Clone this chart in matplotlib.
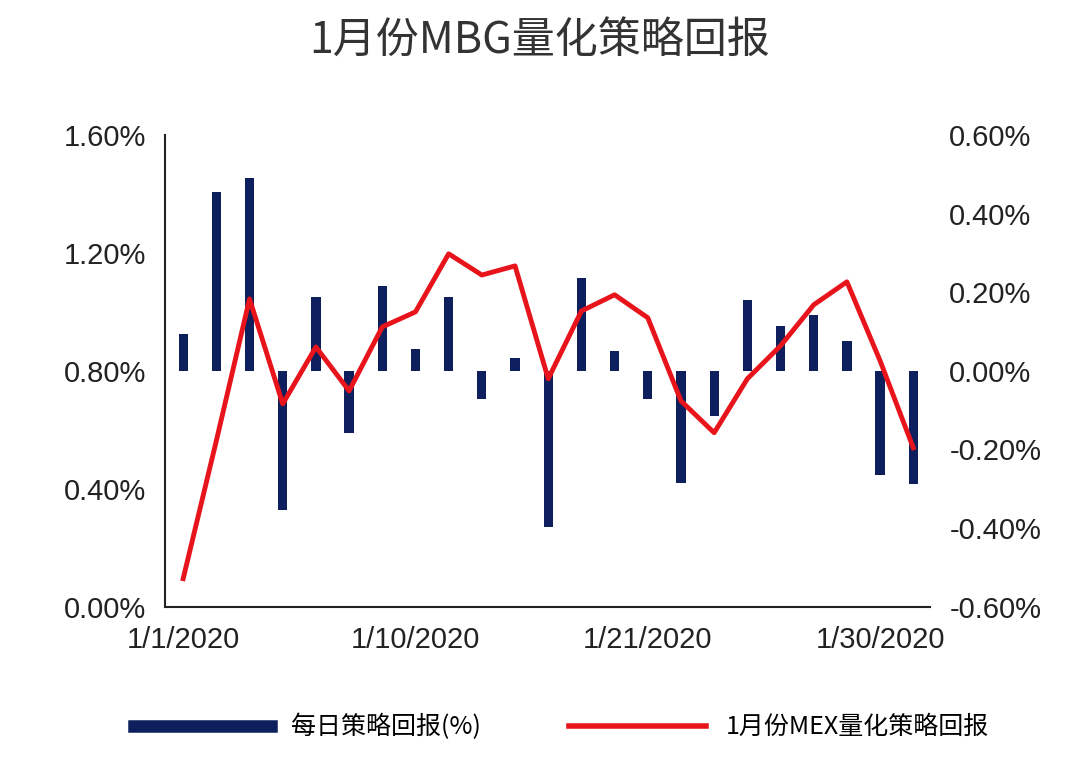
import matplotlib
matplotlib.use("Agg")
import matplotlib.pyplot as plt
from matplotlib.lines import Line2D

plt.rcParams['font.family'] = ['Liberation Sans', 'Noto Sans CJK SC', 'DejaVu Sans']

dates = ["1/1/2020","1/2/2020","1/3/2020","1/4/2020","1/5/2020","1/6/2020","1/7/2020",
         "1/10/2020","1/11/2020","1/12/2020","1/13/2020","1/14/2020","1/15/2020","1/16/2020",
         "1/21/2020","1/22/2020","1/23/2020","1/24/2020","1/25/2020","1/26/2020","1/27/2020",
         "1/30/2020","1/31/2020"]
tick_labels = ["1/1/2020", "1/10/2020", "1/21/2020", "1/30/2020"]
daily = [0.094,0.456,0.491,-0.354,0.187,-0.157,0.215,0.056,0.187,-0.071,0.033,-0.397,
         0.235,0.051,-0.071,-0.286,-0.116,0.180,0.114,0.142,0.076,-0.266,-0.289]
monthly = [0.095,0.563,1.044,0.688,0.881,0.732,0.949,1.0,1.197,1.125,1.156,0.773,1.003,
           1.058,0.980,0.698,0.590,0.773,0.885,1.024,1.102,0.834,0.539]

fig = plt.figure(figsize=(10.8, 7.67), dpi=100)
ax = fig.add_axes([0.153, 0.209, 0.708, 0.615])
ax2 = ax.twinx()
x = list(range(len(dates)))
ax2.bar(x, daily, width=0.28, color='#0d1f5c', zorder=2)
ax.plot(x, monthly, color='#e8141b', lw=3.5, zorder=3)
ax.set_zorder(ax2.get_zorder() + 1)
ax.patch.set_visible(False)

ax.set_xlim(-0.54, 22.5)
ax.set_ylim(0, 1.6)
ax2.set_ylim(-0.6, 0.6)
ax.set_yticks([0, 0.4, 0.8, 1.2, 1.6])
ax.set_yticklabels(["0.00%", "0.40%", "0.80%", "1.20%", "1.60%"])
ax2.set_yticks([-0.6, -0.4, -0.2, 0, 0.2, 0.4, 0.6])
ax2.set_yticklabels(["-0.60%", "-0.40%", "-0.20%", "0.00%", "0.20%", "0.40%", "0.60%"])
ax.set_xticks([dates.index(t) for t in tick_labels])
ax.set_xticklabels(tick_labels)
for a in (ax, ax2):
    a.tick_params(length=0, labelsize=21, colors='#222222', pad=14)
    a.spines['top'].set_visible(False)
    a.spines['right'].set_visible(False)
ax2.spines['left'].set_visible(False)
ax2.spines['bottom'].set_visible(False)
for s in ('left', 'bottom'):
    ax.spines[s].set_linewidth(1.5)
    ax.spines[s].set_color('#222222')

fig.text(0.5, 0.945, "1月份MBG量化策略回报", ha='center', va='center', fontsize=31,
         color='#333333', family=['Noto Sans CJK SC', 'DejaVu Sans'])
handles = [Line2D([], [], color='#0d1f5c', lw=9), Line2D([], [], color='#e8141b', lw=4)]
fig.legend(handles, ["每日策略回报(%)", "1月份MEX量化策略回报"], loc='center',
           bbox_to_anchor=(0.52, 0.052), ncol=2, frameon=False,
           handlelength=5.5, columnspacing=3.5,
           prop={'family': ['Noto Sans CJK SC', 'DejaVu Sans'], 'size': 18})
fig.savefig("out.png", dpi=100)
